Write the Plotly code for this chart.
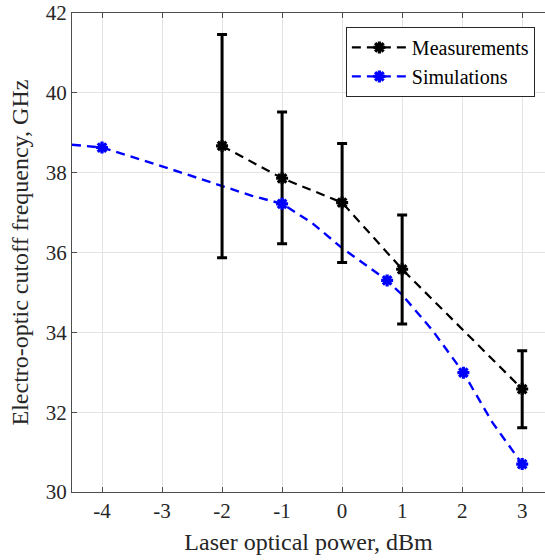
import plotly.graph_objects as go

# measured cutoff frequency vs laser power
meas_power = [-2, -1, 0, 1, 3]
meas_freq = [38.67, 37.86, 37.25, 35.58, 32.58]
meas_err_plus = [2.79, 1.66, 1.48, 1.36, 0.96]
meas_err_minus = [2.80, 1.64, 1.50, 1.37, 0.97]

# simulated points
sim_power = [-4, -1, 0.75, 2.02, 3]
sim_freq = [38.63, 37.22, 35.30, 32.99, 30.70]

# simulated fit curve
curve_power = [-4.5, -4, -3, -2, -1.5, -1, -0.5, 0, 0.75, 1, 1.5, 2.02, 2.5, 3]
curve_freq = [38.70, 38.63, 38.16, 37.67, 37.42, 37.22, 36.74, 36.11, 35.30, 34.94, 34.06, 32.99, 31.75, 30.70]

x_ticks = [-4, -3, -2, -1, 0, 1, 2, 3]
x_ticklabels = ["-4", "-3", "-2", "-1", "0", "1", "2", "3"]

serif = "Liberation Serif, Times New Roman, serif"
blue = "#0000ff"

fig = go.Figure()

fig.add_trace(go.Scatter(
    x=curve_power, y=curve_freq, mode="lines",
    line=dict(color=blue, width=2.4, dash="9px,6px"),
    showlegend=False, hoverinfo="skip"))

fig.add_trace(go.Scatter(
    x=meas_power, y=meas_freq, mode="lines+markers", name="Measurements",
    line=dict(color="black", width=2.2, dash="9px,6px"),
    marker=dict(symbol="asterisk-open", size=10, color="black",
                line=dict(color="black", width=3.2)),
    error_y=dict(type="data", symmetric=False, array=meas_err_plus,
                 arrayminus=meas_err_minus, color="black", thickness=3, width=5)))

fig.add_trace(go.Scatter(
    x=sim_power, y=sim_freq, mode="markers", showlegend=False,
    marker=dict(symbol="asterisk-open", size=10, color=blue,
                line=dict(color=blue, width=3.2))))

# legend entry for the simulations (line + marker)
fig.add_trace(go.Scatter(
    x=[None], y=[None], mode="lines+markers", name="Simulations",
    line=dict(color=blue, width=2.4, dash="9px,6px"),
    marker=dict(symbol="asterisk-open", size=10, color=blue,
                line=dict(color=blue, width=3.2))))

axis_common = dict(
    showgrid=True, gridcolor="#e3e3e3", gridwidth=1,
    showline=True, linecolor="#4d4d4d", linewidth=1,
    ticks="inside", ticklen=5, tickcolor="#4d4d4d",
    zeroline=False, automargin=False,
    tickfont=dict(family=serif, size=21, color="#262626"),
)

fig.update_layout(
    width=545, height=560,
    margin=dict(l=72, r=0, t=13, b=68),
    plot_bgcolor="white", paper_bgcolor="white",
    font=dict(family=serif, color="#262626"),
    xaxis=dict(axis_common, range=[-4.5, 3.38], tickvals=x_ticks, ticktext=x_ticklabels,
               mirror="ticks",
               title=dict(text="Laser optical power, dBm", font=dict(family=serif, size=24), standoff=10)),
    yaxis=dict(axis_common, range=[30, 42], dtick=2),
    legend=dict(x=0.579, y=0.971, xanchor="left", yanchor="top",
                bgcolor="white", bordercolor="#262626", borderwidth=1,
                font=dict(family=serif, size=20, color="black"),
                tracegroupgap=0, itemwidth=55),
)

# y label placed a bit further out than plotly's title allows
fig.add_annotation(
    text="Electro-optic cutoff frequency, GHz", textangle=-90,
    xref="paper", yref="paper", x=-0.11, y=0.5,
    xanchor="center", yanchor="middle", showarrow=False,
    font=dict(family=serif, size=24, color="#262626"))

# drop the default 8px body margin so the figure sits at the page corner
fig.write_html("out.html", config={"displayModeBar": False},
               post_script="document.body.style.margin = '0';")
